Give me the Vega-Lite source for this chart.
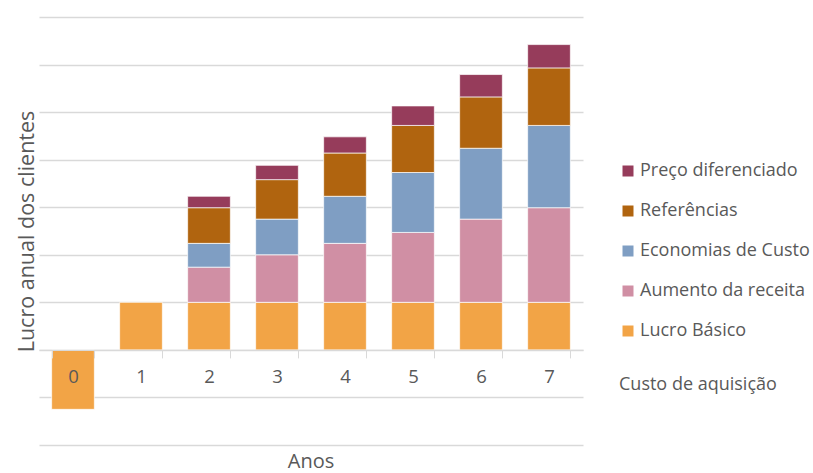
{
  "$schema": "https://vega.github.io/schema/vega-lite/v6.json",
  "autosize": "none",
  "padding": {"left": 39, "top": 17, "right": 230, "bottom": 28},
  "width": 544,
  "height": 428,
  "background": "white",
  "title": {"text": "Anos", "orient": "bottom", "anchor": "middle", "frame": "group", "offset": 7, "fontSize": 20, "font": "Open Sans", "fontWeight": "normal", "color": "#595959"},
  "config": {"view": {"stroke": null}, "font": "Open Sans"},
  "data": {"values": [
    {"ano": "0", "serie": "Lucro Básico", "k": 1, "v": -1.25},
    {"ano": "1", "serie": "Lucro Básico", "k": 1, "v": 1.0},
    {"ano": "2", "serie": "Lucro Básico", "k": 1, "v": 1.0},
    {"ano": "2", "serie": "Aumento da receita", "k": 2, "v": 0.74},
    {"ano": "2", "serie": "Economias de Custo", "k": 3, "v": 0.5},
    {"ano": "2", "serie": "Referências", "k": 4, "v": 0.75},
    {"ano": "2", "serie": "Preço diferenciado", "k": 5, "v": 0.24},
    {"ano": "3", "serie": "Lucro Básico", "k": 1, "v": 1.0},
    {"ano": "3", "serie": "Aumento da receita", "k": 2, "v": 1.0},
    {"ano": "3", "serie": "Economias de Custo", "k": 3, "v": 0.75},
    {"ano": "3", "serie": "Referências", "k": 4, "v": 0.83},
    {"ano": "3", "serie": "Preço diferenciado", "k": 5, "v": 0.3},
    {"ano": "4", "serie": "Lucro Básico", "k": 1, "v": 1.0},
    {"ano": "4", "serie": "Aumento da receita", "k": 2, "v": 1.24},
    {"ano": "4", "serie": "Economias de Custo", "k": 3, "v": 0.99},
    {"ano": "4", "serie": "Referências", "k": 4, "v": 0.91},
    {"ano": "4", "serie": "Preço diferenciado", "k": 5, "v": 0.34},
    {"ano": "5", "serie": "Lucro Básico", "k": 1, "v": 1.0},
    {"ano": "5", "serie": "Aumento da receita", "k": 2, "v": 1.47},
    {"ano": "5", "serie": "Economias de Custo", "k": 3, "v": 1.26},
    {"ano": "5", "serie": "Referências", "k": 4, "v": 0.99},
    {"ano": "5", "serie": "Preço diferenciado", "k": 5, "v": 0.41},
    {"ano": "6", "serie": "Lucro Básico", "k": 1, "v": 1.0},
    {"ano": "6", "serie": "Aumento da receita", "k": 2, "v": 1.75},
    {"ano": "6", "serie": "Economias de Custo", "k": 3, "v": 1.49},
    {"ano": "6", "serie": "Referências", "k": 4, "v": 1.08},
    {"ano": "6", "serie": "Preço diferenciado", "k": 5, "v": 0.47},
    {"ano": "7", "serie": "Lucro Básico", "k": 1, "v": 1.0},
    {"ano": "7", "serie": "Aumento da receita", "k": 2, "v": 1.99},
    {"ano": "7", "serie": "Economias de Custo", "k": 3, "v": 1.73},
    {"ano": "7", "serie": "Referências", "k": 4, "v": 1.21},
    {"ano": "7", "serie": "Preço diferenciado", "k": 5, "v": 0.49}
  ]},
  "mark": {"type": "bar", "stroke": "white", "strokeWidth": 0.7},
  "encoding": {
    "x": {
      "field": "ano", "type": "ordinal",
      "scale": {"paddingInner": 0.372, "paddingOuter": 0.186},
      "axis": {
        "title": null, "labelAngle": 0, "offset": -95.1, "zindex": 1,
        "domainColor": "#d9d9d9", "domainWidth": 1.3,
        "tickColor": "#d9d9d9", "tickSize": 8, "tickBand": "extent", "tickWidth": 1,
        "labelFontSize": 18.5, "labelColor": "#595959", "labelPadding": 10, "labelFont": "Open Sans"
      }
    },
    "y": {
      "field": "v", "type": "quantitative", "stack": "zero",
      "scale": {"domain": [-2, 7], "nice": false, "zero": false},
      "axis": {
        "title": "Lucro anual dos clientes", "titleFontSize": 21.5, "titleFont": "Open Sans", "titleFontWeight": "normal", "titleColor": "#595959", "titlePadding": 1,
        "values": [-2, -1, 0, 1, 2, 3, 4, 5, 6, 7],
        "labels": false, "ticks": false, "domain": false,
        "gridColor": "#d9d9d9", "gridWidth": 1.3
      }
    },
    "color": {
      "field": "serie", "type": "nominal",
      "scale": {
        "domain": ["Preço diferenciado", "Referências", "Economias de Custo", "Aumento da receita", "Lucro Básico"],
        "range": ["#963c5b", "#b0640f", "#7f9ec3", "#d08fa4", "#f2a446"]
      },
      "legend": {
        "orient": "none", "legendX": 580, "legendY": 145,
        "title": "Custo de aquisição", "titleOrient": "bottom", "titleAnchor": "start",
        "titleFontSize": 18, "titleFont": "Open Sans", "titleFontWeight": "normal", "titleColor": "#595959", "titlePadding": 36,
        "symbolType": "square", "symbolSize": 121, "symbolStrokeWidth": 0,
        "labelFontSize": 18, "labelFont": "Open Sans", "labelColor": "#595959", "labelOffset": 3,
        "rowPadding": 22, "padding": 0, "labelLimit": 250
      }
    },
    "order": {"field": "k", "type": "quantitative", "sort": "ascending"}
  }
}
